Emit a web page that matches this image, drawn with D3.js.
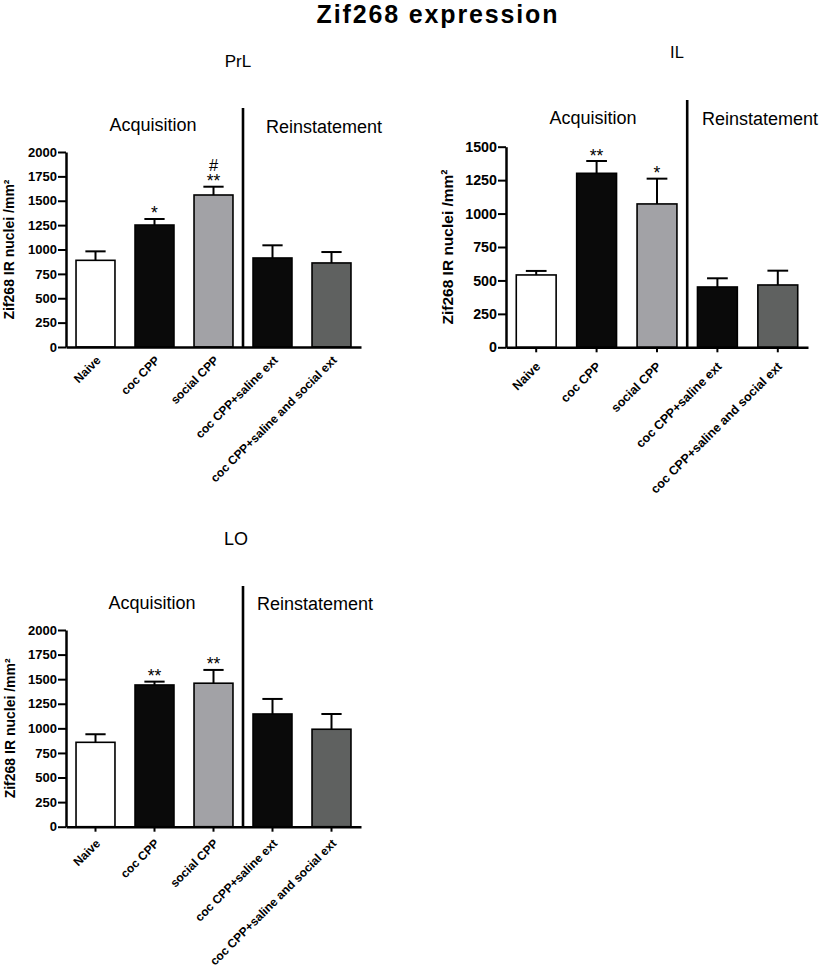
<!DOCTYPE html>
<html>
<head>
<meta charset="utf-8">
<script src="https://cdn.jsdelivr.net/npm/d3@7"></script>
<style>
  body { margin: 0; background: #fff; }
  svg { display: block; font-family: "Liberation Sans", Arial, Helvetica, sans-serif; }
</style>
</head>
<body>
<svg id="chart" width="825" height="967"></svg>
<script>
// ---------- DATA ----------
const categories = ["Naive", "coc CPP", "social CPP", "coc CPP+saline ext", "coc CPP+saline and social ext"];

const prlMeans = [889, 1251, 1559, 913, 862];
const prlSem   = [92, 62, 85, 130, 112];
const prlStars = ["", "*", "**", "", ""];
const prlHash  = ["", "", "#", "", ""];

const ilMeans = [541, 1301, 1072, 451, 466];
const ilSem   = [30, 92, 189, 65, 107];
const ilStars = ["", "**", "*", "", ""];
const ilHash  = ["", "", "", "", ""];

const loMeans = [858, 1441, 1459, 1146, 991];
const loSem   = [82, 34, 135, 153, 155];
const loStars = ["", "**", "**", "", ""];
const loHash  = ["", "", "", "", ""];

const ticks2000 = [0, 250, 500, 750, 1000, 1250, 1500, 1750, 2000];
const ticks1500 = [0, 250, 500, 750, 1000, 1250, 1500];

const chartTitle = "Zif268 expression";
const yTitle = "Zif268 IR nuclei /mm²";
const phaseLabels = ["Acquisition", "Reinstatement"];

// ---------- STYLE ----------
const barColors = ["#ffffff", "#0a0a0a", "#a2a2a6", "#0a0a0a", "#5f6160"];

const svg = d3.select("#chart");

svg.append("text")
  .attr("x", 437).attr("y", 23)
  .attr("text-anchor", "middle")
  .attr("font-size", 25).attr("font-weight", "bold")
  .attr("textLength", 241).attr("lengthAdjust", "spacing")
  .text(chartTitle);

const panels = [
  { name: "PrL", means: prlMeans, sem: prlSem, stars: prlStars, hash: prlHash, ticks: ticks2000, yMax: 2000,
    x0: 66, x1: 361, yTop: 152, yZero: 347, divTop: 108,
    titleX: 238, titleY: 67, titleSize: 17,
    acqX: 153, acqY: 131, reiX: 266, reiY: 133,
    tickLen: 0, labDx: 6, labDy: 14, labSize: 12, tickFont: 13,
    yTitleX: 13.5, yTitleSize: 14 },
  { name: "IL", means: ilMeans, sem: ilSem, stars: ilStars, hash: ilHash, ticks: ticks1500, yMax: 1500,
    x0: 506, x1: 808, yTop: 146.7, yZero: 347.3, divTop: 100,
    titleX: 677, titleY: 58, titleSize: 16.5,
    acqX: 593, acqY: 124, reiX: 702, reiY: 125,
    tickLen: 5, labDx: 5, labDy: 20, labSize: 12.5, tickFont: 14.3,
    yTitleX: 452.5, yTitleSize: 15.5 },
  { name: "LO", means: loMeans, sem: loSem, stars: loStars, hash: loHash, ticks: ticks2000, yMax: 2000,
    x0: 66, x1: 361, yTop: 630, yZero: 826.7, divTop: 586,
    titleX: 236, titleY: 545, titleSize: 18,
    acqX: 152, acqY: 609, reiX: 257, reiY: 610,
    tickLen: 5, labDx: 5.5, labDy: 17.5, labSize: 12, tickFont: 13,
    yTitleX: 14.5, yTitleSize: 14 }
];

panels.forEach(p => {
  const g = svg.append("g");
  const x = d3.scaleBand().domain(categories).range([p.x0, p.x1]).paddingInner(0.34).paddingOuter(0.17);
  const y = d3.scaleLinear().domain([0, p.yMax]).range([p.yZero, p.yTop]);
  const bw = x.bandwidth();

  // panel title
  g.append("text").attr("x", p.titleX).attr("y", p.titleY).attr("text-anchor", "middle")
    .attr("font-size", p.titleSize).text(p.name);

  // phase labels
  g.append("text").attr("x", p.acqX).attr("y", p.acqY).attr("text-anchor", "middle")
    .attr("font-size", 18).text(phaseLabels[0]);
  g.append("text").attr("x", p.reiX).attr("y", p.reiY).attr("text-anchor", "start")
    .attr("font-size", 18).text(phaseLabels[1]);

  // bars
  g.selectAll("rect.bar").data(p.means).join("rect")
    .attr("class", "bar")
    .attr("x", (d, i) => x(categories[i]))
    .attr("y", d => y(d))
    .attr("width", bw)
    .attr("height", d => y(0) - y(d))
    .attr("fill", (d, i) => barColors[i])
    .attr("stroke", "#000").attr("stroke-width", 1.6);

  // error bars (upper only)
  const eb = g.selectAll("g.err").data(p.means).join("g").attr("class", "err");
  eb.append("line")
    .attr("x1", (d, i) => x(categories[i]) + bw / 2)
    .attr("x2", (d, i) => x(categories[i]) + bw / 2)
    .attr("y1", d => y(d))
    .attr("y2", (d, i) => y(d + p.sem[i]))
    .attr("stroke", "#000").attr("stroke-width", 2);
  eb.append("line")
    .attr("x1", (d, i) => x(categories[i]) + bw / 2 - bw * 0.26)
    .attr("x2", (d, i) => x(categories[i]) + bw / 2 + bw * 0.26)
    .attr("y1", (d, i) => y(d + p.sem[i]))
    .attr("y2", (d, i) => y(d + p.sem[i]))
    .attr("stroke", "#000").attr("stroke-width", 2);

  // significance marks
  g.selectAll("text.star").data(p.means).join("text")
    .attr("class", "star")
    .attr("x", (d, i) => x(categories[i]) + bw / 2)
    .attr("y", (d, i) => y(d + p.sem[i]) + 0.5)
    .attr("text-anchor", "middle").attr("font-size", 17.5)
    .text((d, i) => p.stars[i]);
  g.selectAll("text.hash").data(p.means.filter((d, i) => p.hash[i])).join("text")
    .attr("class", "hash")
    .attr("x", d => x(categories[p.means.indexOf(d)]) + bw / 2)
    .attr("y", d => y(d + p.sem[p.means.indexOf(d)]) - 16)
    .attr("text-anchor", "middle").attr("font-size", 16.5)
    .text(d => p.hash[p.means.indexOf(d)]);

  // divider
  const divX = (x(categories[2]) + bw + x(categories[3])) / 2;
  g.append("line").attr("x1", divX).attr("x2", divX)
    .attr("y1", p.divTop).attr("y2", p.yZero)
    .attr("stroke", "#000").attr("stroke-width", 2.6);

  // y axis
  const ya = g.append("g").attr("transform", `translate(${p.x0},0)`)
    .call(d3.axisLeft(y).tickValues(p.ticks).tickFormat(d3.format("d"))
      .tickSize(8).tickSizeOuter(0).tickPadding(1));
  ya.select(".domain").attr("stroke", "#000").attr("stroke-width", 2.5);
  ya.selectAll(".tick line").attr("stroke", "#000").attr("stroke-width", 2);
  ya.selectAll(".tick text").attr("font-size", p.tickFont).attr("font-weight", "bold")
    .attr("font-family", "Liberation Sans, Arial, sans-serif").attr("fill", "#000");

  // x axis
  const xa = g.append("g").attr("transform", `translate(0,${p.yZero})`)
    .call(d3.axisBottom(x).tickSize(p.tickLen).tickSizeOuter(0).tickFormat(""));
  xa.select(".domain").attr("stroke", "#000").attr("stroke-width", 2.5);
  xa.selectAll(".tick line").attr("stroke", "#000").attr("stroke-width", 2);

  // rotated category labels
  g.selectAll("text.cat").data(categories).join("text")
    .attr("class", "cat")
    .attr("transform", d => `translate(${x(d) + bw / 2 + p.labDx},${p.yZero + p.labDy}) rotate(-45)`)
    .attr("text-anchor", "end").attr("font-size", p.labSize).attr("font-weight", "bold")
    .text(d => d);

  // y title
  g.append("text")
    .attr("transform", `translate(${p.yTitleX},${(p.yTop + p.yZero) / 2}) rotate(-90)`)
    .attr("text-anchor", "middle").attr("font-size", p.yTitleSize).attr("font-weight", "bold")
    .text(yTitle);
});
</script>
</body>
</html>
